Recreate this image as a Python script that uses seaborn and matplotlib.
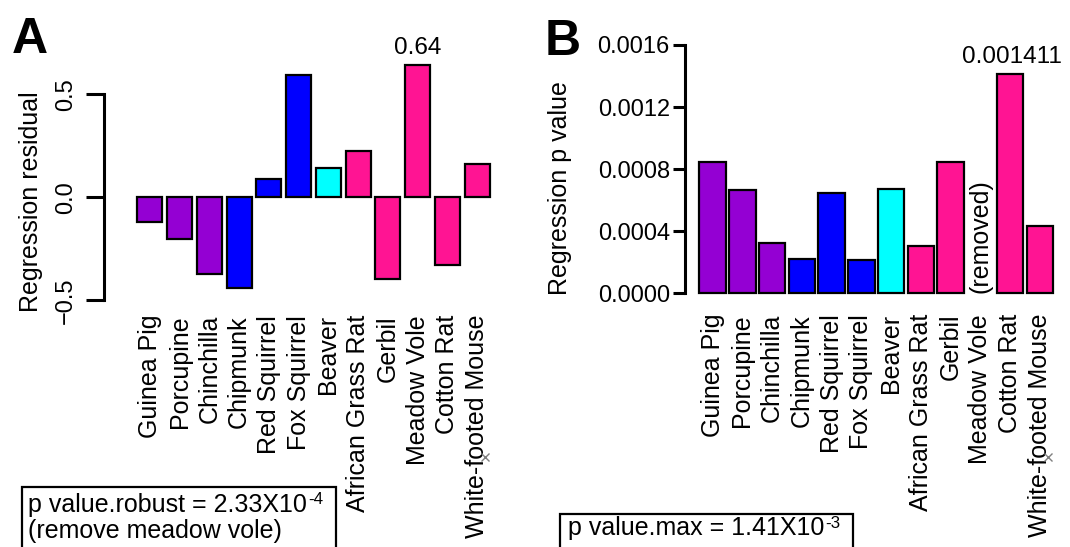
import numpy as np
import pandas as pd
import matplotlib
matplotlib.use("Agg")
import matplotlib.pyplot as plt
import seaborn as sns
from matplotlib.patches import Rectangle
from matplotlib.lines import Line2D
from matplotlib.text import Annotation

# ---------------- data ----------------
species = ["Guinea Pig", "Porcupine", "Chinchilla", "Chipmunk", "Red Squirrel",
           "Fox Squirrel", "Beaver", "African Grass Rat", "Gerbil", "Meadow Vole",
           "Cotton Rat", "White-footed Mouse"]
groups = ["Hystricomorpha", "Hystricomorpha", "Hystricomorpha",
          "Sciuromorpha", "Sciuromorpha", "Sciuromorpha",
          "Castorimorpha",
          "Myomorpha", "Myomorpha", "Myomorpha", "Myomorpha", "Myomorpha"]
residuals = [-0.118, -0.201, -0.372, -0.439, 0.089, 0.594, 0.144, 0.225,
             -0.398, 0.64, -0.329, 0.160]
pvalues = [0.000848, 0.000664, 0.000322, 0.000223, 0.000648, 0.000215,
           0.000670, 0.000305, 0.000846, np.nan, 0.001411, 0.000434]
group_colors = {"Hystricomorpha": "#9400D3", "Sciuromorpha": "#0000FF",
                "Castorimorpha": "#00FFFF", "Myomorpha": "#FF1493"}

a_yticks = [-0.5, 0.0, 0.5]
a_yticklabels = ["\u22120.5", "0.0", "0.5"]
b_yticks = [0.0, 0.0004, 0.0008, 0.0012, 0.0016]
b_yticklabels = ["0.0000", "0.0004", "0.0008", "0.0012", "0.0016"]

a_label_species = "Meadow Vole"
a_label_text = "0.64"
b_label_species = "Cotton Rat"
b_label_text = "0.001411"
b_removed_species = "Meadow Vole"

df = pd.DataFrame({"species": species, "group": groups,
                   "residual": residuals, "pvalue": pvalues})

# ---------------- style ----------------
sns.set_style("white")
plt.rcParams["font.family"] = ["Liberation Sans", "DejaVu Sans"]
for key in ["text.color", "axes.labelcolor", "xtick.color", "ytick.color", "axes.edgecolor"]:
    plt.rcParams[key] = "black"

W, H = 1070, 547
fig = plt.figure(figsize=(W / 100, H / 100), dpi=100)
fig.patch.set_facecolor("white")


def px_axes(left, top, right, bottom):
    return fig.add_axes([left / W, (H - bottom) / H, (right - left) / W, (bottom - top) / H])


LW = 2.2

# ---------------- panel A ----------------
axA = px_axes(104.3, 40, 494.9, 305)
sns.barplot(data=df, x="species", y="residual", hue="group", order=species,
            palette=group_colors, saturation=1, dodge=False, width=0.84, errorbar=None,
            edgecolor="black", linewidth=1.6, legend=False, ax=axA)
axA.set_xlim(-1.529, 11.6)
axA.set_ylim(-0.5228, 0.7636)
for s in ["top", "right", "bottom"]:
    axA.spines[s].set_visible(False)
axA.spines["left"].set_bounds(-0.5, 0.5)
axA.spines["left"].set_linewidth(LW)
axA.set_yticks(a_yticks)
axA.set_yticklabels(a_yticklabels, fontsize=17, rotation=90, va="center")
axA.tick_params(axis="y", length=13, width=LW, pad=6.5, direction="out", left=True)
axA.set_xticks(range(len(species)))
axA.set_xticklabels(species, rotation=90, fontsize=18, va="top", ha="center")
axA.tick_params(axis="x", length=0, pad=7.2)
axA.set_xlabel("")
axA.set_ylabel("Regression residual", fontsize=18)
axA.yaxis.set_label_coords(43 / W, (H - 202) / H, transform=fig.transFigure)
ia = species.index(a_label_species)
axA.annotate(a_label_text, xy=(ia, residuals[ia]), xytext=(0, 8.6),
             textcoords="offset points", ha="center", va="baseline", fontsize=17.5)

# ---------------- panel B ----------------
axB = px_axes(685, 20, 1057.8, 300)
sns.barplot(data=df, x="species", y="pvalue", hue="group", order=species,
            palette=group_colors, saturation=1, dodge=False, width=0.89, errorbar=None,
            edgecolor="black", linewidth=1.6, legend=False, ax=axB)
axB.set_xlim(-0.924, 11.6)
axB.set_ylim(-4.32e-5, 0.0017609)
for s in ["top", "right", "bottom"]:
    axB.spines[s].set_visible(False)
axB.spines["left"].set_bounds(0, 0.0016)
axB.spines["left"].set_linewidth(LW)
axB.set_yticks(b_yticks)
axB.set_yticklabels(b_yticklabels, fontsize=17)
axB.tick_params(axis="y", length=8.5, width=LW, pad=2.4, direction="out", left=True)
axB.set_xticks(range(len(species)))
axB.set_xticklabels(species, rotation=90, fontsize=18, va="top", ha="center")
axB.tick_params(axis="x", length=0, pad=10)
axB.set_xlabel("")
axB.set_ylabel("Regression p value", fontsize=18)
axB.yaxis.set_label_coords(572 / W, (H - 188) / H, transform=fig.transFigure)
ib = species.index(b_label_species)
axB.annotate(b_label_text, xy=(ib, pvalues[ib]), xytext=(1.5, 8),
             textcoords="offset points", ha="center", va="baseline", fontsize=17.5)
ir = species.index(b_removed_species)
axB.text(ir, 0, "(removed)", rotation=90, ha="center", va="bottom", fontsize=18)

# ---------------- panel letters ----------------
fig.text(12 / W, (H - 53) / H, "A", fontsize=36, fontweight="bold", va="baseline")
fig.text(545 / W, (H - 55) / H, "B", fontsize=36, fontweight="bold", va="baseline")


def sup_text(x_px, y_px, main, sup, size=18):
    t = fig.text(x_px / W, (H - y_px) / H, main, fontsize=size, va="baseline")
    s = Annotation(sup, xy=(1.0, 0.0), xycoords=t, xytext=(0.5, 0.5 * size),
                   textcoords="offset points", fontsize=size * 0.68,
                   ha="left", va="baseline", annotation_clip=False)
    # anchor superscript to main text's baseline: main bbox bottom includes descent
    s.xy = (1.0, 0.0)
    fig.add_artist(s)
    return t, s


# ---------------- boxes ----------------
fig.add_artist(Rectangle((21.7 / W, (H - 565) / H), (336 - 21.7) / W, (565 - 486.7) / H,
                         transform=fig.transFigure, fill=False, edgecolor="black",
                         linewidth=1.6, clip_on=False))
sup_text(28.3, 511.7, "p value.robust = 2.33X10", "-4")
fig.text(28.3 / W, (H - 538) / H, "(remove meadow vole)", fontsize=18, va="baseline")

fig.add_artist(Rectangle((560 / W, (H - 565) / H), (853 - 560) / W, (565 - 514) / H,
                         transform=fig.transFigure, fill=False, edgecolor="black",
                         linewidth=1.6, clip_on=False))
sup_text(568.3, 535, "p value.max = 1.41X10", "-3")

# small grey cross marks near the last labels (drawn as markers)
for mx in (485, 1048):
    fig.add_artist(Line2D([mx / W], [(H - 457) / H], transform=fig.transFigure,
                          marker="x", markersize=6, markeredgewidth=1.0,
                          color="grey", linestyle="none"))

fig.savefig("out.png", dpi=100, facecolor="white")
